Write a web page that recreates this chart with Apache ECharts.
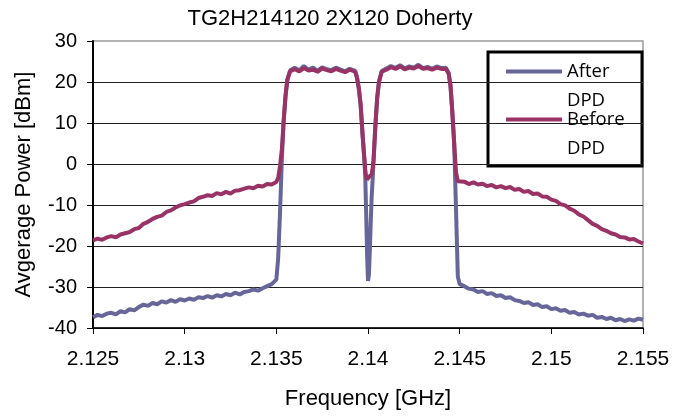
<!DOCTYPE html>
<html>
<head>
<meta charset="utf-8">
<script src="https://cdn.jsdelivr.net/npm/echarts@6/dist/echarts.min.js"></script>
<style>
  html, body { margin: 0; padding: 0; background: #fff; }
  #main-chart { width: 674px; height: 416px; }
</style>
</head>
<body>
<div id="main-chart"></div>
<script>
// ---- data (GHz / dBm) ----
const freq = [
  2.125, 2.12525, 2.1255, 2.12575, 2.126, 2.12625, 2.1265, 2.12675, 2.127, 2.12725,
  2.1275, 2.12775, 2.128, 2.12825, 2.1285, 2.12875, 2.129, 2.12925, 2.1295, 2.12975,
  2.13, 2.13025, 2.1305, 2.13075, 2.131, 2.13125, 2.1315, 2.13175, 2.132, 2.13225,
  2.1325, 2.13275, 2.133, 2.13325, 2.1335, 2.13375, 2.134, 2.13425, 2.1345, 2.13475,
  2.135, 2.1351, 2.1352, 2.1353, 2.1354, 2.1355, 2.1356, 2.13575,
  2.136, 2.13625, 2.1365, 2.13675, 2.137, 2.13725, 2.1375, 2.13775, 2.138, 2.13825, 2.1385, 2.13875, 2.139,
  2.1393, 2.1394, 2.1395, 2.1396, 2.1397, 2.1398, 2.13985, 2.1399, 2.13995, 2.14,
  2.14005, 2.1401, 2.14015, 2.1402, 2.14025, 2.1403, 2.1404, 2.1405, 2.1406, 2.14075,
  2.141, 2.14125, 2.1415, 2.14175, 2.142, 2.14225, 2.1425, 2.14275, 2.143, 2.14325, 2.1435, 2.14375, 2.144,
  2.14425, 2.1444, 2.1445, 2.1446, 2.1447, 2.1448, 2.1449, 2.145,
  2.14525, 2.1455, 2.14575, 2.146, 2.14625, 2.1465, 2.14675, 2.147, 2.14725, 2.1475,
  2.14775, 2.148, 2.14825, 2.1485, 2.14875, 2.149, 2.14925, 2.1495, 2.14975, 2.15,
  2.15025, 2.1505, 2.15075, 2.151, 2.15125, 2.1515, 2.15175, 2.152, 2.15225, 2.1525,
  2.15275, 2.153, 2.15325, 2.1535, 2.15375, 2.154, 2.15425, 2.1545, 2.15475, 2.155
];

const afterDpd = [
  -37.4, -36.8, -37.1, -36.5, -36.3, -36.7, -35.9, -36.2, -35.4, -35.7,
  -34.9, -34.3, -34.6, -33.9, -34.2, -33.5, -33.8, -33.2, -33.6, -33.0,
  -33.3, -32.8, -33.1, -32.5, -32.7, -32.2, -32.6, -32.0, -32.3, -31.7,
  -32.0, -31.4, -31.8, -31.2, -31.0, -30.6, -30.9, -30.3, -29.8, -29.3,
  -28.2, -23.0, -12.0, 1.0, 10.5, 16.6, 20.6, 22.8,
  23.5, 22.8, 23.9, 23.0, 23.5, 22.7, 23.6, 23.1, 22.9, 23.5, 23.0, 22.6, 23.2,
  22.7, 21.2, 18.3, 14.2, 7.2, 1.0, -3.0, -12.0, -22.0, -28.5,
  -27.0, -21.0, -14.0, -8.0, -4.0, 0.5, 9.2, 16.2, 20.2, 22.7,
  23.3, 23.9, 23.4, 24.1, 23.3, 23.8, 23.5, 24.2, 23.4, 23.7, 23.2, 23.8, 23.4,
  23.5, 22.2, 19.2, 12.8, 5.2, -11.0, -27.5, -29.3,
  -29.8, -30.4, -30.6, -31.2, -31.0, -31.7, -31.5, -32.2, -32.0, -32.7,
  -32.5, -33.2, -33.4, -33.9, -33.7, -34.4, -34.2, -34.9, -34.7, -35.4,
  -35.2, -35.8, -35.6, -36.3, -36.1, -36.7, -36.5, -37.0, -36.8, -37.5,
  -37.3, -37.8, -37.5, -38.1, -37.8, -38.3, -37.9, -38.2, -37.7, -38.0
];

const beforeDpd = [
  -18.6, -18.2, -18.5, -17.9, -17.6, -17.9, -17.2, -16.9, -16.6, -15.9,
  -15.6, -14.6, -14.1, -13.4, -12.9, -12.6, -11.7, -11.3, -10.6, -10.1,
  -9.8, -9.4, -9.1, -8.3, -8.0, -7.6, -7.8, -7.1, -7.4, -6.8,
  -7.2, -6.5, -6.4, -6.0, -5.7, -5.9, -5.3, -5.5, -4.9, -5.0,
  -4.4, -3.4, -0.5, 3.5, 10.5, 16.5, 20.5, 22.6,
  23.1, 22.6, 23.4, 22.8, 23.0, 22.5, 23.3, 22.9, 22.6, 23.2, 22.8, 22.4, 23.0,
  22.5, 21.0, 18.5, 14.5, 7.5, 1.5, -1.5, -3.0, -3.8, -3.5,
  -3.2, -3.0, -3.4, -2.5, -1.0, 0.8, 9.0, 16.0, 20.0, 22.5,
  23.0, 23.6, 23.2, 23.8, 23.1, 23.5, 23.3, 23.9, 23.2, 23.4, 23.0, 23.5, 23.2,
  23.2, 22.0, 19.0, 12.5, 5.0, -2.0, -4.2, -4.6,
  -4.3, -4.9, -4.5, -5.0, -4.8, -5.4, -5.1, -5.7, -5.4, -5.9,
  -5.6, -6.3, -6.1, -6.8, -6.6, -7.3, -7.2, -7.9, -8.0, -8.7,
  -9.0, -9.8, -10.1, -10.9, -11.4, -12.3, -12.8, -13.7, -14.6, -15.1,
  -15.9, -16.3, -16.9, -17.2, -17.8, -17.9, -18.4, -18.3, -18.9, -19.4
];

const xTickLabels = ['2.125', '2.13', '2.135', '2.14', '2.145', '2.15', '2.155'];
const seriesNames = ['After DPD', 'Before DPD'];

// ---- chart ----
const chart = echarts.init(document.getElementById('main-chart'));
const FONT = '"Liberation Sans", Arial, sans-serif';

chart.setOption({
  animation: false,
  backgroundColor: '#fff',
  title: {
    text: 'TG2H214120 2X120 Doherty',
    left: 325,
    textAlign: 'center',
    top: 3,
    textStyle: { fontFamily: FONT, fontSize: 22, fontWeight: 'normal', color: '#000' }
  },
  grid: {
    left: 93, right: 31, top: 41, bottom: 88,
    show: true, borderColor: '#9a9a9a', borderWidth: 1.5
  },
  legend: {
    orient: 'vertical',
    left: 506,
    top: 28,
    padding: 0,
    itemGap: -39,
    itemWidth: 56,
    itemHeight: 4,
    icon: 'rect',
    data: seriesNames,
    // icon sits level with the first word, the second word wraps under it
    formatter: name => '\n' + name.replace(' ', '\n'),
    textStyle: { fontFamily: '"Open Sans", sans-serif', fontSize: 18.5, lineHeight: 29, color: '#000' }
  },
  graphic: [{
    type: 'rect',
    shape: { x: 488, y: 52, width: 154, height: 114 },
    style: { fill: '#fff', stroke: '#000', lineWidth: 3 },
    z: 0
  }],
  xAxis: {
    type: 'value',
    min: 2.125, max: 2.155, interval: 0.005,
    name: 'Frequency [GHz]',
    nameLocation: 'middle',
    nameGap: 60,
    nameTextStyle: { fontFamily: FONT, fontSize: 22, color: '#000' },
    axisLine: { show: true, onZero: false, lineStyle: { color: '#000', width: 1.5 } },
    axisTick: { show: true, inside: false, length: 6, lineStyle: { color: '#000' } },
    axisLabel: {
      fontFamily: FONT, fontSize: 21, color: '#000', margin: 21,
      formatter: v => xTickLabels[Math.round((v - 2.125) / 0.005)]
    },
    splitLine: { show: false }
  },
  yAxis: {
    type: 'value',
    min: -40, max: 30, interval: 10,
    name: 'Avgerage Power [dBm]',
    nameLocation: 'middle',
    nameGap: 58,
    nameTextStyle: { fontFamily: FONT, fontSize: 22, color: '#000' },
    axisLine: { show: true, lineStyle: { color: '#000', width: 2 } },
    axisTick: { show: true, inside: false, length: 6, lineStyle: { color: '#000' } },
    axisLabel: { fontFamily: FONT, fontSize: 20, color: '#000', margin: 16 },
    splitLine: { show: true, showMaxLine: false, lineStyle: { color: '#222', width: 1 } }
  },
  series: [
    {
      name: seriesNames[0],
      type: 'line',
      symbol: 'none',
      data: freq.map((f, i) => [f, afterDpd[i]]),
      lineStyle: { color: '#666699', width: 4 },
      itemStyle: { color: '#666699' },
      z: 3
    },
    {
      name: seriesNames[1],
      type: 'line',
      symbol: 'none',
      data: freq.map((f, i) => [f, beforeDpd[i]]),
      lineStyle: { color: '#993366', width: 4 },
      itemStyle: { color: '#993366' },
      z: 4
    }
  ]
});
</script>
</body>
</html>
